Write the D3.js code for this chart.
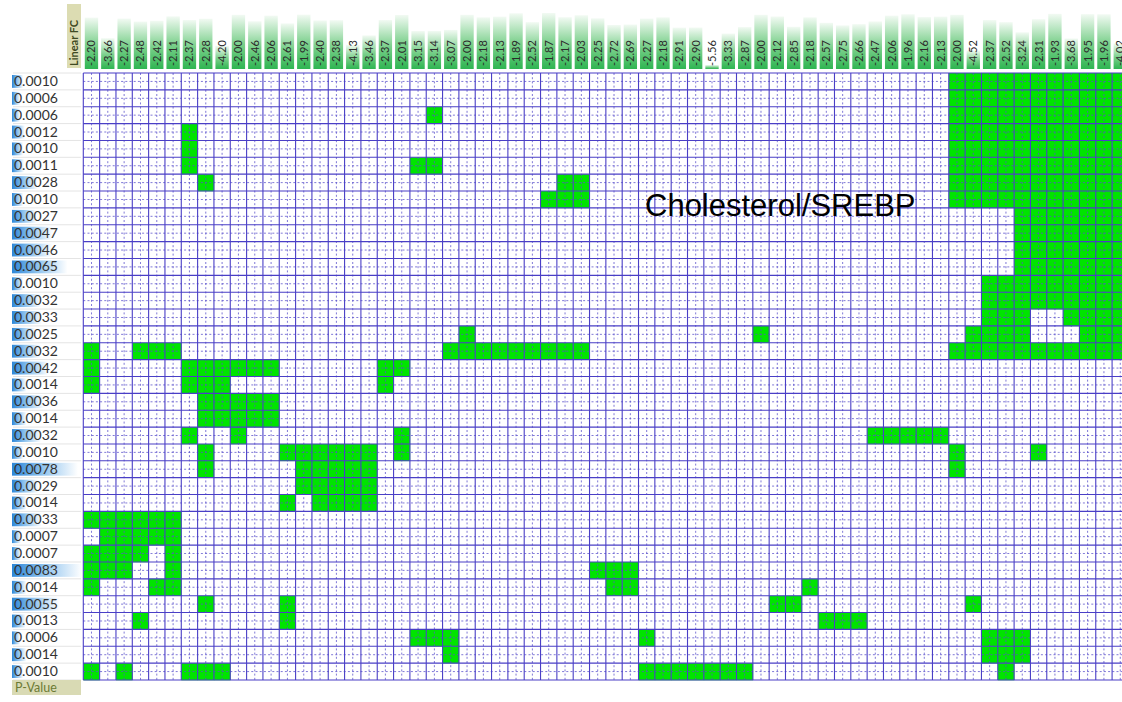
<!DOCTYPE html>
<html><head><meta charset="utf-8">
<script src="https://cdn.jsdelivr.net/npm/d3@7/dist/d3.min.js"></script>
<style>body{margin:0;background:#fff;} svg{display:block;}</style>
</head><body>
<svg id="c" width="1122" height="702"></svg>
<script>
// ---- data ----
const fcValues = [-2.20,-3.66,-2.27,-2.48,-2.42,-2.11,-2.37,-2.28,-4.20,-2.00,-2.46,-2.06,-2.61,-1.99,-2.40,-2.38,
  -4.13,-3.46,-2.37,-2.01,-3.15,-3.14,-3.07,-2.00,-2.18,-2.13,-1.89,-2.52,-1.87,-2.17,-2.03,-2.25,-2.72,-2.69,
  -2.27,-2.18,-2.91,-2.90,-5.56,-3.33,-2.87,-2.00,-2.12,-2.85,-2.18,-2.57,-2.75,-2.66,-2.47,-2.06,-1.96,-2.16,
  -2.13,-2.00,-4.52,-2.37,-2.52,-3.24,-2.31,-1.93,-3.68,-1.95,-1.96,-4.02];
const pValues = [0.0010,0.0006,0.0006,0.0012,0.0010,0.0011,0.0028,0.0010,0.0027,0.0047,0.0046,0.0065,
  0.0010,0.0032,0.0033,0.0025,0.0032,0.0042,0.0014,0.0036,0.0014,0.0032,0.0010,0.0078,0.0029,0.0014,
  0.0033,0.0007,0.0007,0.0083,0.0014,0.0055,0.0013,0.0006,0.0014,0.0010];
// member columns per row: single index or [from,to] inclusive
const hitRows = [
  [[53,63]], [[53,63]], [21,[53,63]], [6,[53,63]], [6,[53,63]], [6,20,21,[53,63]],
  [7,29,30,[53,63]], [[28,30],[53,63]], [[57,63]], [[57,63]], [[57,63]], [[57,63]],
  [[55,63]], [[55,63]], [[55,57],[60,63]], [23,41,[54,57],[61,63]], [0,[3,5],[22,30],[53,63]],
  [0,[6,11],18,19], [0,[6,8],18], [[7,11]], [[7,11]], [6,9,19,[48,52]],
  [7,[12,17],19,53,58], [7,[13,17],53], [[13,17]], [12,[14,17]], [[0,5]], [[1,5]],
  [[0,3],5], [[0,2],5,[31,33]], [0,4,5,32,33,44], [7,12,42,43,54], [3,12,[45,47]],
  [[20,22],34,[55,57]], [22,[55,57]], [0,2,[6,8],[34,40],56]
];
const colHeader = "Linear FC";
const rowHeader = "P-Value";
const annotation = "Cholesterol/SREBP";

// ---- build ----
const svg = d3.select("#c");
const nCols = fcValues.length, nRows = pValues.length;
const gx0 = 83.3, step = 16.33;
const x = d3.scaleBand().domain(d3.range(nCols)).range([gx0, gx0 + nCols*step]);
const y = d3.scaleBand().domain(d3.range(nRows)).range([73, 680]);
const barH = d3.scaleLinear().domain([-5.56, -1.87]).range([4, 56]);
const pW = d3.scaleLinear().domain([0.0006, 0.0083]).range([8, 70]);

const defs = svg.append("defs");
const gg = defs.append("linearGradient").attr("id","gGreen").attr("x1",0).attr("y1",1).attr("x2",0).attr("y2",0);
gg.append("stop").attr("offset","0%").attr("stop-color","#2fb552");
gg.append("stop").attr("offset","45%").attr("stop-color","#79cf8a");
gg.append("stop").attr("offset","100%").attr("stop-color","#f2faf3");
const gb = defs.append("linearGradient").attr("id","gBlue").attr("x1",0).attr("y1",0).attr("x2",1).attr("y2",0);
gb.append("stop").attr("offset","0%").attr("stop-color","#2c86d8");
gb.append("stop").attr("offset","45%").attr("stop-color","#8dc2ee");
gb.append("stop").attr("offset","100%").attr("stop-color","#ffffff");

// header bars
const hdr = svg.append("g");
hdr.selectAll("rect").data(fcValues).join("rect")
  .attr("x",(d,i)=>x(i)+1.5).attr("width",x.bandwidth()-3)
  .attr("y",d=>69-barH(d)).attr("height",d=>barH(d))
  .attr("fill","url(#gGreen)");
hdr.selectAll("text").data(fcValues).join("text")
  .attr("transform",(d,i)=>`translate(${x(i)+x.bandwidth()/2+4},66) rotate(-90)`)
  .attr("font-family","Lato, 'Open Sans', sans-serif").attr("font-size",11)
  .attr("fill","#2b2b2b").text(d=>d.toFixed(2));

// Linear FC header box
svg.append("rect").attr("x",67).attr("y",4).attr("width",14).attr("height",64).attr("fill","#dcdcb2");
svg.append("text").attr("transform","translate(78,66) rotate(-90)")
  .attr("font-family","Lato, 'Open Sans', sans-serif").attr("font-size",11).attr("font-weight","bold")
  .attr("fill","#3f4a22").text(colHeader);

// row labels with blue data bars
const rl = svg.append("g");
rl.selectAll("line").data(d3.range(nRows+1)).join("line")
  .attr("x1",13).attr("x2",81).attr("y1",i=>y(0)+i*y.step()).attr("y2",i=>y(0)+i*y.step())
  .attr("stroke","#e4e4e4").attr("stroke-width",1);
rl.selectAll("rect").data(pValues).join("rect")
  .attr("x",12).attr("y",(d,i)=>y(i)+2).attr("height",y.bandwidth()-4)
  .attr("width",d=>pW(d)).attr("fill","url(#gBlue)");
rl.selectAll("text").data(pValues).join("text")
  .attr("x",14).attr("y",(d,i)=>y(i)+y.bandwidth()/2+4.5)
  .attr("font-family","Lato, 'Open Sans', sans-serif").attr("font-size",14)
  .attr("fill","#333").text(d=>d.toFixed(4));

// P-Value box
svg.append("rect").attr("x",12).attr("y",680).attr("width",69).attr("height",15).attr("fill","#d9dab4");
svg.append("text").attr("x",15).attr("y",692).attr("font-family","Lato, 'Open Sans', sans-serif")
  .attr("font-size",12.5).attr("fill","#6c7a35").text(rowHeader);

// green member cells
const cells = [];
hitRows.forEach((row,r)=>row.forEach(e=>{
  if (Array.isArray(e)) { for (let c=e[0]; c<=e[1]; c++) cells.push({r,c}); }
  else cells.push({r,c:e});
}));
svg.append("g").selectAll("rect").data(cells).join("rect")
  .attr("x",d=>x(d.c)).attr("y",d=>y(d.r)).attr("width",x.step()+0.3).attr("height",y.step()+0.3)
  .attr("fill","#00e400");

// grid
const grid = svg.append("g");
const gxEnd = gx0 + nCols*step;
grid.selectAll(".vd").data(d3.range(nCols)).join("line").attr("class","vd")
  .attr("x1",i=>x(i)+x.bandwidth()/2).attr("x2",i=>x(i)+x.bandwidth()/2)
  .attr("y1",73).attr("y2",680).attr("stroke","#5a50cc").attr("stroke-width",0.9)
  .attr("stroke-dasharray","2,2.2").attr("opacity",0.85);
grid.selectAll(".hd").data(d3.range(nRows)).join("line").attr("class","hd")
  .attr("y1",i=>y(i)+y.bandwidth()/2).attr("y2",i=>y(i)+y.bandwidth()/2)
  .attr("x1",gx0).attr("x2",gxEnd).attr("stroke","#5a50cc").attr("stroke-width",0.9)
  .attr("stroke-dasharray","2,2.2").attr("opacity",0.85);
grid.selectAll(".v").data(d3.range(nCols+1)).join("line").attr("class","v")
  .attr("x1",i=>gx0+i*step).attr("x2",i=>gx0+i*step)
  .attr("y1",73).attr("y2",680).attr("stroke","#4a3fc6").attr("stroke-width",1.1);
grid.selectAll(".h").data(d3.range(nRows+1)).join("line").attr("class","h")
  .attr("y1",i=>y(0)+i*y.step()).attr("y2",i=>y(0)+i*y.step())
  .attr("x1",gx0).attr("x2",gxEnd).attr("stroke","#4a3fc6").attr("stroke-width",1.1);

// annotation
svg.append("text").attr("x",645).attr("y",216)
  .attr("font-family","'Liberation Sans', Arial, sans-serif").attr("font-size",31)
  .attr("fill","#000").text(annotation);
</script>
</body></html>
